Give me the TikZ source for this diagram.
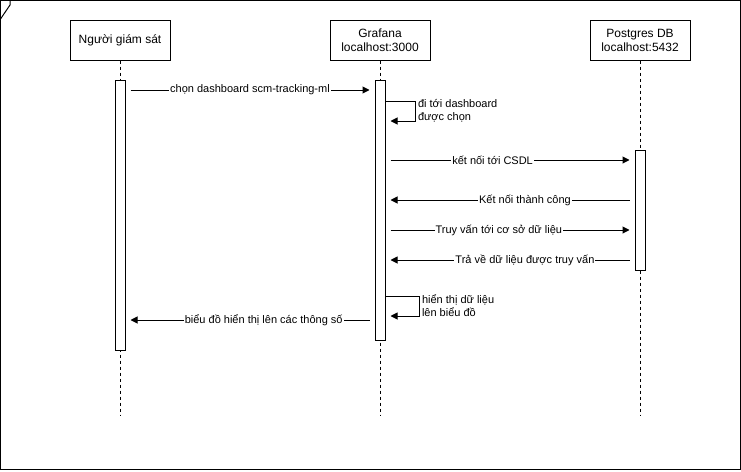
\documentclass[tikz,border=0pt]{standalone}
\usepackage{fontspec}
\setmainfont{Liberation Sans}
\usetikzlibrary{arrows.meta}

\begin{document}
\begin{tikzpicture}[x=1pt, y=-1pt, line width=1pt,
    actor/.style={draw, fill=white, minimum width=100pt, minimum height=40pt, align=center, font=\fontsize{12}{14}\selectfont},
    bar/.style={draw, fill=white, minimum width=10pt, inner sep=0pt},
    lifeline/.style={dash pattern=on 3pt off 3pt},
    msg/.style={-{Triangle[length=7pt, width=7pt]}, shorten <=5pt, shorten >=5pt},
    selfmsg/.style={-{Triangle[length=7pt, width=7pt]}, shorten >=5pt},
    lbl/.style={fill=white, inner xsep=1pt, inner ysep=1pt, font=\fontsize{11}{13}\selectfont}]
    \useasboundingbox (0,0) rectangle (741,471);

    %Frame
    \draw (0.5,0.5) rectangle (740,469.5);
    \draw (10,0.5) -- (10,5) -- (0.5,19);

    %Nodes
    \node[actor] at (120, 40) (nguoi) {Người giám sát};
    \node[actor] at (380, 40) (grafana) {Grafana\\localhost:3000};
    \node[actor] at (640, 40) (postgres) {Postgres DB\\localhost:5432};

    %Lifelines
    \draw[lifeline] (nguoi) -- (nguoi |- 0,415);
    \draw[lifeline] (grafana) -- (grafana |- 0,415);
    \draw[lifeline] (postgres) -- (postgres |- 0,415);

    %Bars
    \node[bar, minimum height=270pt] at (120, 215) (nbar) {};
    \node[bar, minimum height=260pt] at (380, 210) (gbar) {};
    \node[bar, minimum height=120pt] at (640, 210) (pbar) {};

    %Lines
    \draw[msg] (nbar.east |- 0,90) -- (gbar.west |- 0,90) node [lbl, midway] {chọn dashboard scm-tracking-ml};
    \draw[selfmsg] (gbar.east |- 0,101) -- ++(30,0) |- (gbar.east |- 0,121) node [pos=0.25, right, align=left, inner sep=2pt, font=\fontsize{11}{13}\selectfont] {đi tới dashboard\\được chọn};
    \draw[msg] (gbar.east |- 0,160) -- (pbar.west |- 0,160) node [lbl, pos=0.43] {kết nối tới CSDL};
    \draw[msg] (pbar.west |- 0,200) -- (gbar.east |- 0,200) node [lbl, pos=0.44] {Kết nối thành công};
    \draw[msg] (gbar.east |- 0,230) -- (pbar.west |- 0,230) node [lbl, pos=0.455] {Truy vấn tới cơ sở dữ liệu};
    \draw[msg] (pbar.west |- 0,260) -- (gbar.east |- 0,260) node [lbl, pos=0.44] {Trả về dữ liệu được truy vấn};
    \draw[selfmsg] (gbar.east |- 0,296) -- ++(34,0) |- (gbar.east |- 0,316) node [pos=0.25, right, align=left, inner sep=2pt, font=\fontsize{11}{13}\selectfont] {hiển thị dữ liệu\\lên biểu đồ};
    \draw[msg] (gbar.west |- 0,320) -- (nbar.east |- 0,320) node [lbl, pos=0.445] {biểu đồ hiển thị lên các thông số};

\end{tikzpicture}
\end{document}
